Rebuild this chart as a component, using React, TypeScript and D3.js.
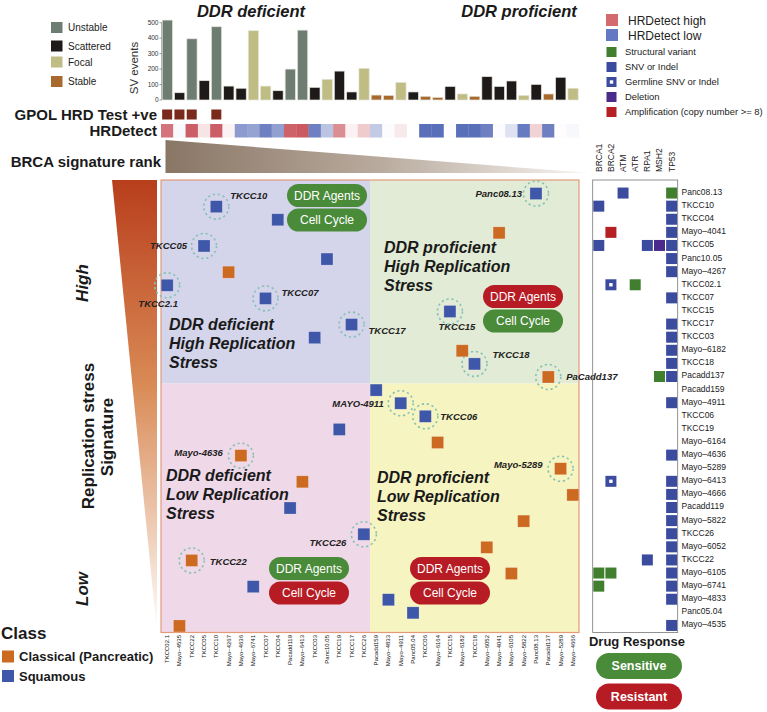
import React from 'react';
import * as d3 from 'd3';

const W = 767, H = 712;
const FONT = "'Liberation Sans', Arial, Helvetica, sans-serif";

// Samples ordered by BRCA signature rank (x axis)
const samplesByBrca = [
  'TKCC02.1', 'Mayo-4535', 'TKCC22', 'TKCC05', 'TKCC10', 'Mayo-4267', 'Mayo-4636', 'Mayo-6741',
  'TKCC07', 'TKCC04', 'Pacadd119', 'Mayo-6413', 'TKCC03', 'Panc10.05', 'TKCC19', 'TKCC17', 'TKCC26',
  'Pacadd159', 'Mayo-4833', 'Mayo-4911', 'Panc05.04', 'TKCC06', 'Mayo-6164', 'TKCC15', 'Mayo-6182',
  'TKCC18', 'Mayo-6052', 'Mayo-4041', 'Mayo-6105', 'Mayo-5822', 'Panc08.13', 'Pacadd137', 'Mayo-5289', 'Mayo-4666',
];

// Samples ordered by replication stress signature (y axis, high -> low)
const samplesByRs = [
  'Panc08.13', 'TKCC10', 'TKCC04', 'Mayo-4041', 'TKCC05', 'Panc10.05', 'Mayo-4267', 'TKCC02.1', 'TKCC07',
  'TKCC15', 'TKCC17', 'TKCC03', 'Mayo-6182', 'TKCC18', 'Pacadd137', 'Pacadd159', 'Mayo-4911', 'TKCC06',
  'TKCC19', 'Mayo-6164', 'Mayo-4636', 'Mayo-5289', 'Mayo-6413', 'Mayo-4666', 'Pacadd119', 'Mayo-5822',
  'TKCC26', 'Mayo-6052', 'TKCC22', 'Mayo-6105', 'Mayo-6741', 'Mayo-4833', 'Panc05.04', 'Mayo-4535',
];

// Classical (Pancreatic) samples; all others Squamous
const classicalSamples = [
  'Mayo-4041', 'Mayo-4267', 'Mayo-6182', 'Pacadd137', 'Mayo-6164', 'Mayo-4636', 'Mayo-5289', 'Mayo-6413',
  'Mayo-4666', 'Mayo-5822', 'Mayo-6052', 'TKCC22', 'Mayo-6105', 'Mayo-4535',
];

// SV events per sample (BRCA order)
const svClass = [
  'Unstable', 'Scattered', 'Unstable', 'Scattered', 'Unstable', 'Scattered', 'Scattered', 'Focal',
  'Focal', 'Scattered', 'Unstable', 'Unstable', 'Scattered', 'Focal', 'Scattered', 'Scattered', 'Focal',
  'Stable', 'Stable', 'Focal', 'Scattered', 'Stable', 'Stable', 'Scattered', 'Focal',
  'Stable', 'Scattered', 'Scattered', 'Scattered', 'Focal', 'Scattered', 'Stable', 'Scattered', 'Focal',
];
const svEvents = [
  517, 47, 396, 125, 474, 90, 76, 448,
  90, 60, 200, 452, 82, 134, 187, 52, 205,
  32, 30, 114, 52, 24, 17, 88, 39,
  24, 151, 88, 123, 30, 101, 39, 147, 76,
];
const svCategories = ['Unstable', 'Scattered', 'Focal', 'Stable'];
const svColors = ['#6E7D72', '#1E1A1A', '#BFBC84', '#A8692E'];

const gpolPositive = ['TKCC02.1', 'Mayo-4535', 'TKCC22', 'TKCC10'];

// HRDetect score (-1 low ... +1 high), BRCA order
const hrdetect = [
  0.8, -0.04, 0.92, 0.15, 0.92, 0.07, -0.7, -0.64,
  -0.88, -0.66, 0.9, 0.95, -0.88, -0.42, 0.65, 0.08, 0.3,
  -0.37, -0.02, 0.12, 0, -1, -1, -0.02, -1,
  -1, -0.88, -0.02, -0.2, -0.92, 0.25, -0.88, 0.02, -0.05,
];

const genes = ['BRCA1', 'BRCA2', 'ATM', 'ATR', 'RPA1', 'MSH2', 'TP53'];
const mutTypes = ['Structural variant', 'SNV or Indel', 'Germline SNV or Indel', 'Deletion', 'Amplification (copy number >= 8)'];
const mutColors = ['#3F7F2E', '#3B4B9E', '#3B4B9E', '#4A2A8A', '#B52025'];
const mutations: [string, string, number][] = [
  ['Panc08.13', 'ATM', 1], ['Panc08.13', 'TP53', 0],
  ['TKCC10', 'BRCA1', 1], ['TKCC10', 'TP53', 1],
  ['TKCC04', 'TP53', 1],
  ['Mayo-4041', 'BRCA2', 4], ['Mayo-4041', 'TP53', 1],
  ['TKCC05', 'BRCA1', 1], ['TKCC05', 'RPA1', 1], ['TKCC05', 'MSH2', 3], ['TKCC05', 'TP53', 1],
  ['Panc10.05', 'TP53', 1], ['Mayo-4267', 'TP53', 1],
  ['TKCC02.1', 'BRCA2', 2], ['TKCC02.1', 'ATR', 0],
  ['TKCC07', 'TP53', 1], ['TKCC17', 'TP53', 1], ['TKCC03', 'TP53', 1], ['Mayo-6182', 'TP53', 1],
  ['TKCC18', 'TP53', 1], ['Pacadd137', 'MSH2', 0], ['Pacadd137', 'TP53', 1],
  ['Mayo-4911', 'TP53', 1], ['Mayo-4636', 'TP53', 1],
  ['Mayo-6413', 'BRCA2', 2], ['Mayo-6413', 'TP53', 1],
  ['Mayo-4666', 'TP53', 1], ['Pacadd119', 'TP53', 1], ['Mayo-5822', 'TP53', 1], ['TKCC26', 'TP53', 1],
  ['Mayo-6052', 'TP53', 1], ['TKCC22', 'RPA1', 1], ['TKCC22', 'TP53', 1],
  ['Mayo-6105', 'BRCA1', 0], ['Mayo-6105', 'BRCA2', 0], ['Mayo-6105', 'TP53', 1],
  ['Mayo-6741', 'BRCA1', 0], ['Mayo-6741', 'TP53', 1],
  ['Mayo-4833', 'TP53', 1], ['Mayo-4535', 'TP53', 1],
];

// Highlighted samples and their annotation text
const highlighted = [
  'TKCC10', 'TKCC05', 'TKCC02.1', 'TKCC07', 'TKCC17', 'Panc08.13', 'TKCC15', 'TKCC18', 'Pacadd137',
  'Mayo-4911', 'TKCC06', 'Mayo-4636', 'Mayo-5289', 'TKCC26', 'TKCC22',
];
const highlightText = [
  'TKCC10', 'TKCC05', 'TKCC2.1', 'TKCC07', 'TKCC17', 'Panc08.13', 'TKCC15', 'TKCC18', 'PaCadd137',
  'MAYO-4911', 'TKCC06', 'Mayo-4636', 'Mayo-5289', 'TKCC26', 'TKCC22',
];

const quadrantTitles = [
  ['DDR deficient', 'High Replication', 'Stress'],
  ['DDR proficient', 'High Replication', 'Stress'],
  ['DDR deficient', 'Low Replication', 'Stress'],
  ['DDR proficient', 'Low Replication', 'Stress'],
];
const drugs = ['DDR Agents', 'Cell Cycle'];
// response per quadrant [DDR Agents, Cell Cycle]
const drugResponse = [
  ['Sensitive', 'Sensitive'],
  ['Resistant', 'Sensitive'],
  ['Sensitive', 'Resistant'],
  ['Resistant', 'Resistant'],
];
const responseLevels = ['Sensitive', 'Resistant'];
const responseColors = ['#4A8B3A', '#B71C24'];

const classLevels = ['Classical (Pancreatic)', 'Squamous'];
const classColors = ['#CC6A22', '#3F57A8'];

// ---------- layout (not data) ----------
const PX0 = 161, PX1 = 579, PY0 = 180, PY1 = 632.5;
const labelLayout: Record<string, [number, number, string]> = {
  'TKCC10': [14, -8, 'start'],
  'TKCC05': [-17, 3, 'end'],
  'TKCC02.1': [-9, 22, 'middle'],
  'TKCC07': [16, -2, 'start'],
  'TKCC17': [17, 9, 'start'],
  'Panc08.13': [-14, 3.5, 'end'],
  'TKCC15': [7, 18.5, 'middle'],
  'TKCC18': [18, -5.5, 'start'],
  'Pacadd137': [18, 3, 'start'],
  'Mayo-4911': [-17, 3.5, 'end'],
  'TKCC06': [15, 4, 'start'],
  'Mayo-4636': [-18, 0.5, 'end'],
  'Mayo-5289': [-18, -1, 'end'],
  'TKCC26': [-17.5, 12, 'end'],
  'TKCC22': [18, 5, 'start'],
};
const quadTextPos = [[169, 330], [384, 253], [166, 481], [377, 483]];
const pillPos = [[287, 184], [483, 285], [269, 557], [410, 557]];

const dash = (s: string) => s.replace('-', '\u2013');

export default function App() {
  const x = d3.scaleBand<string>().domain(samplesByBrca).range([PX0, PX1]);
  const y = d3.scaleBand<string>().domain(samplesByRs).range([187, PY1]);
  const cx = (s: string) => (x(s) as number) + x.bandwidth() / 2;
  const cy = (s: string) => (y(s) as number) + y.bandwidth() / 2;
  const svY = d3.scaleLinear().domain([0, 500]).range([100, 22.7]);
  const svColor = d3.scaleOrdinal<string, string>().domain(svCategories).range(svColors);
  const hrColor = d3.scaleLinear<string>().domain([-1, 0, 1]).range(['#5A6FBA', '#FFFFFF', '#C8505A']);
  const gx = d3.scaleBand<string>().domain(genes).range([592.7, 677.7]);
  const classColor = (s: string) => (classicalSamples.includes(s) ? classColors[0] : classColors[1]);
  const respColor = d3.scaleOrdinal<string, string>().domain(responseLevels).range(responseColors);

  const xDiv = x(samplesByBrca[17]) as number;
  const yDiv = y(samplesByRs[15]) as number;
  const quadRects = [
    [PX0, PY0, xDiv, yDiv, '#D4D4EA'],
    [xDiv, PY0, PX1, yDiv, '#E1EBD5'],
    [PX0, yDiv, xDiv, PY1, '#EFD8E8'],
    [xDiv, yDiv, PX1, PY1, '#F6F4C0'],
  ] as [number, number, number, number, string][];

  const sq = 12;
  const cellS = 11;

  return (
    <svg width={W} height={H} style={{ position: 'absolute', left: 0, top: 0, background: '#fff' }} fontFamily={FONT}>
      <defs>
        <linearGradient id="rsGrad" x1="0" y1="0" x2="0" y2="1">
          <stop offset="0" stopColor="#B83E1C" />
          <stop offset="0.45" stopColor="#D98A55" />
          <stop offset="0.8" stopColor="#F0D2BE" />
          <stop offset="1" stopColor="#FFFFFF" />
        </linearGradient>
        <linearGradient id="brcaGrad" x1="0" y1="0" x2="1" y2="0">
          <stop offset="0" stopColor="#897665" />
          <stop offset="0.5" stopColor="#B8AA9D" />
          <stop offset="1" stopColor="#F7F4F1" />
        </linearGradient>
      </defs>

      {/* Titles */}
      <text x={251} y={16.5} fontSize={16.5} fontWeight="bold" fontStyle="italic" textAnchor="middle" fill="#1a1a1a">DDR deficient</text>
      <text x={519} y={16.5} fontSize={16.5} fontWeight="bold" fontStyle="italic" textAnchor="middle" fill="#1a1a1a">DDR proficient</text>

      {/* SV legend */}
      {svCategories.map((c, i) => {
        const ys = [27.5, 46, 62, 81.5][i];
        return (
          <g key={c}>
            <rect x={51} y={ys - 5.5} width={11.5} height={11} fill={svColor(c)} />
            <text x={68} y={ys} dy="0.35em" fontSize={10} fill="#222">{c}</text>
          </g>
        );
      })}

      {/* SV bar chart */}
      <line x1={161.7} x2={161.7} y1={svY(0)} y2={svY(500)} stroke="#555" strokeWidth={0.6} />
      {svY.ticks(5).map(t => (
        <g key={t}>
          <line x1={159.5} x2={161.7} y1={svY(t)} y2={svY(t)} stroke="#555" strokeWidth={0.6} />
          <text x={158.5} y={svY(t)} dy="0.35em" fontSize={6.5} textAnchor="end" fill="#333">{t}</text>
        </g>
      ))}
      <text transform="translate(134,68) rotate(-90)" fontSize={11.5} textAnchor="middle" dominantBaseline="central" fill="#333">SV events</text>
      {samplesByBrca.map((s, i) => (
        <rect key={s} x={(x(s) as number) + 1.2} width={x.bandwidth() - 2} y={svY(svEvents[i])} height={svY(0) - svY(svEvents[i])}
          fill={svColor(svClass[i])} stroke="#E6E6DC" strokeWidth={0.7} />
      ))}

      {/* GPOL row */}
      <text x={157} y={114.5} dy="0.35em" fontSize={15} fontWeight="bold" textAnchor="end" fill="#1a1a1a">GPOL HRD Test +ve</text>
      {gpolPositive.map(s => (
        <rect key={s} x={cx(s) - 5} y={109.5} width={10} height={10} fill="#7A2A1A" />
      ))}

      {/* HRDetect row */}
      <text x={157} y={131} dy="0.35em" fontSize={15} fontWeight="bold" textAnchor="end" fill="#1a1a1a">HRDetect</text>
      {samplesByBrca.map((s, i) => (
        <rect key={s} x={x(s)} y={124} width={x.bandwidth() + 0.3} height={13.5} fill={hrColor(hrdetect[i])} />
      ))}

      {/* BRCA signature rank */}
      <text x={161} y={162} dy="0.35em" fontSize={15} fontWeight="bold" textAnchor="end" fill="#1a1a1a">BRCA signature rank</text>
      <polygon points="165.5,140 165.5,173 590,173" fill="url(#brcaGrad)" />

      {/* Replication stress triangle & labels */}
      <polygon points={`112,${PY0} 157,${PY0} 157,${PY1}`} fill="url(#rsGrad)" />
      <text transform="translate(82,283) rotate(-90)" fontSize={17} fontWeight="bold" fontStyle="italic" textAnchor="middle" dominantBaseline="central" fill="#1a1a1a">High</text>
      <text transform="translate(82,589) rotate(-90)" fontSize={17} fontWeight="bold" fontStyle="italic" textAnchor="middle" dominantBaseline="central" fill="#1a1a1a">Low</text>
      <text transform="translate(88,436) rotate(-90)" fontSize={17} fontWeight="bold" textAnchor="middle" dominantBaseline="central" fill="#1a1a1a">Replication stress</text>
      <text transform="translate(107.5,437) rotate(-90)" fontSize={17} fontWeight="bold" textAnchor="middle" dominantBaseline="central" fill="#1a1a1a">Signature</text>

      {/* Quadrants */}
      {quadRects.map(([x0, y0, x1, y1, c], i) => (
        <rect key={i} x={x0} y={y0} width={x1 - x0} height={y1 - y0} fill={c} />
      ))}
      <rect x={PX0} y={PY0} width={PX1 - PX0} height={PY1 - PY0} fill="none" stroke="#E39A7A" strokeWidth={1.2} />

      {quadrantTitles.map((lines, q) => (
        <text key={q} x={quadTextPos[q][0]} y={quadTextPos[q][1]} fontSize={16} fontWeight="bold" fontStyle="italic" fill="#1a1a1a">
          {lines.map((l, j) => (
            <tspan key={j} x={quadTextPos[q][0]} dy={j === 0 ? 0 : 19}>{l}</tspan>
          ))}
        </text>
      ))}

      {/* Drug response pills */}
      {drugResponse.map((resp, q) => (
        <g key={q}>
          {drugs.map((d, j) => {
            const px = pillPos[q][0], py = pillPos[q][1] + j * 24.5;
            return (
              <g key={d}>
                <rect x={px} y={py} width={80} height={23} rx={11.5} fill={respColor(resp[j])} />
                <text x={px + 40} y={py + 11.5} dy="0.35em" textAnchor="middle" fontSize={12} fill="#fff">{d}</text>
              </g>
            );
          })}
        </g>
      ))}

      {/* Highlight circles */}
      {highlighted.map(s => (
        <circle key={s} cx={cx(s)} cy={cy(s)} r={12.5} fill="none" stroke="#86C2B4" strokeWidth={1.6} strokeDasharray="2.2 2.8" />
      ))}

      {/* Points */}
      {samplesByBrca.map(s => (
        <rect key={s} x={cx(s) - sq / 2} y={cy(s) - sq / 2} width={sq} height={sq} fill={classColor(s)} stroke="#ffffff" strokeOpacity={0.35} strokeWidth={0.6} />
      ))}

      {/* Bottom sample labels */}
      {samplesByBrca.map(s => (
        <text key={s} transform={`translate(${cx(s) + 2},635) rotate(-90)`} fontSize={6} textAnchor="end" fill="#111">{dash(s)}</text>
      ))}

      {/* Right legend */}
      <rect x={606} y={14} width={12} height={12} fill="#D36A6E" />
      <text x={628} y={20.5} dy="0.35em" fontSize={12} fill="#222">HRDetect high</text>
      <rect x={606} y={29} width={12} height={12} fill="#6379C4" />
      <text x={628} y={35.5} dy="0.35em" fontSize={12} fill="#222">HRDetect low</text>
      {mutTypes.map((m, i) => {
        const yy = 52 + i * 15;
        return (
          <g key={m}>
            <rect x={606.5} y={yy - 5} width={10} height={10} fill={mutColors[i]} />
            {i === 2 && <rect x={609.8} y={yy - 1.7} width={3.4} height={3.4} fill="#fff" />}
            <text x={625} y={yy} dy="0.35em" fontSize={9.4} fill="#222">{m}</text>
          </g>
        );
      })}

      {/* Gene matrix */}
      {genes.map(g => (
        <text key={g} transform={`translate(${(gx(g) as number) + gx.bandwidth() / 2},172) rotate(-90)`} fontSize={8.5} dominantBaseline="central" fill="#222">{g}</text>
      ))}
      {mutations.map(([s, g, t], i) => {
        const gxx = (gx(g) as number) + gx.bandwidth() / 2;
        const yy = cy(s) - 0.5;
        return (
          <g key={i}>
            <rect x={gxx - cellS / 2} y={yy - cellS / 2} width={cellS} height={cellS} fill={mutColors[t]} />
            {t === 2 && <rect x={gxx - 1.7} y={yy - 1.7} width={3.4} height={3.4} fill="#fff" />}
          </g>
        );
      })}
      {samplesByRs.map(s => (
        <text key={s} x={681.5} y={cy(s) - 1.5} dy="0.35em" fontSize={8.5} fill="#222">{dash(s)}</text>
      ))}

      {/* Point labels */}
      {highlighted.map((s, i) => {
        const [dx, dy, anchor] = labelLayout[s];
        return (
          <text key={s} x={cx(s) + dx} y={cy(s) + dy} fontSize={9.5} fontWeight="bold" fontStyle="italic" textAnchor={anchor as any} fill="#222">{highlightText[i]}</text>
        );
      })}
      <rect x={592.7} y={PY0} width={85} height={PY1 - PY0} fill="none" stroke="#777" strokeWidth={0.8} />

      {/* Class legend */}
      <text x={1} y={633} dy="0.35em" fontSize={17} fontWeight="bold" fill="#1a1a1a">Class</text>
      {classLevels.map((c, i) => (
        <g key={c}>
          <rect x={2} y={650.5 + i * 19.5} width={12} height={12} fill={classColors[i]} />
          <text x={19} y={656.5 + i * 19.5} dy="0.35em" fontSize={13} fontWeight="bold" fill="#1a1a1a">{c}</text>
        </g>
      ))}

      {/* Drug response legend */}
      <text x={637} y={641} dy="0.35em" fontSize={13} fontWeight="bold" textAnchor="middle" fill="#1a1a1a">Drug Response</text>
      {responseLevels.map((r, i) => (
        <g key={r}>
          <rect x={596} y={653 + i * 30.5} width={86} height={26} rx={13} fill={responseColors[i]} />
          <text x={639} y={666 + i * 30.5} dy="0.35em" textAnchor="middle" fontSize={12.5} fontWeight="bold" fill="#fff">{r}</text>
        </g>
      ))}
    </svg>
  );
}
